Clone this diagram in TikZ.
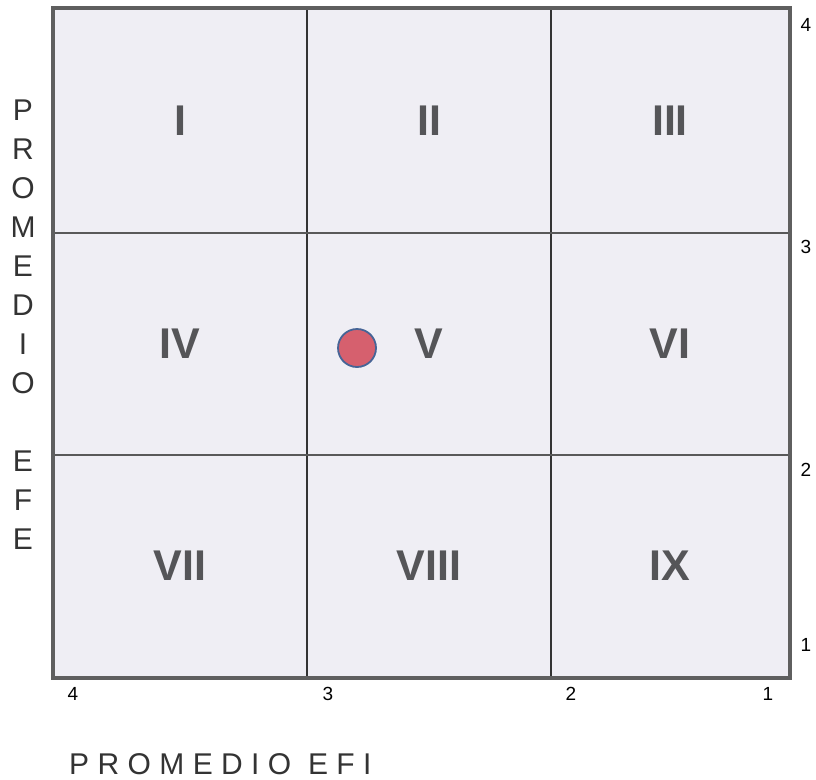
\documentclass[tikz,border=0pt]{standalone}
\usepackage{fontspec}
\setmainfont{Liberation Sans}
\definecolor{cellfill}{RGB}{239,238,244}
\definecolor{framegray}{RGB}{95,95,95}
\definecolor{numgray}{RGB}{85,85,88}
\definecolor{dotred}{RGB}{214,96,110}
\definecolor{dotblue}{RGB}{70,100,150}
\begin{document}
\begin{tikzpicture}[x=1pt, y=-1pt,
    every node/.style={font=\fontsize{19}{21}\selectfont, inner sep=0pt},
    numeral/.style={font=\fontsize{43}{45}\selectfont\bfseries, text=numgray},
    axislabel/.style={font=\fontsize{30}{32}\selectfont, text=black!80}]
    \useasboundingbox (0,0) rectangle (816,779);
    % matrix cells
    \fill[cellfill] (53,8) rectangle (790,678);
    \draw[line width=1.3pt, black!80] (307,8) -- (307,678) (551,8) -- (551,678);
    \draw[line width=1.5pt, black!65] (53,233) -- (790,233) (53,455) -- (790,455);
    \draw[line width=4pt, framegray] (53,8) rectangle (790,678);
    \foreach \lab/\x/\y in {I/180/121, II/429/121, III/670/121,
                            IV/180/344, V/429/344, VI/670/344,
                            VII/180/566, VIII/429/566, IX/670/566} {
        \node[numeral] (q\lab) at (\x,\y) {\lab};
    }
    \node[circle, fill=dotred, draw=dotblue, line width=1.8pt, minimum size=38pt] (dot) at (357,348) {};
    % scale values
    \foreach \v/\y in {4/25, 3/247, 2/470, 1/645}
        \node (ry\v) at (806,\y) {\v};
    \foreach \v/\x in {4/73, 3/328, 2/571, 1/768}
        \node (bx\v) at (\x,694) {\v};
    % axis titles
    \foreach \l [count=\i] in {P,R,O,M,E,D,I,O,{},E,F,E}
        \node[axislabel] (efe\i) at (23, {110+39*(\i-1)}) {\l};
    \node[axislabel, anchor=west] (efi) at (69,764) {\addfontfeature{LetterSpace=28}PROMEDIO EFI};
\end{tikzpicture}
\end{document}
